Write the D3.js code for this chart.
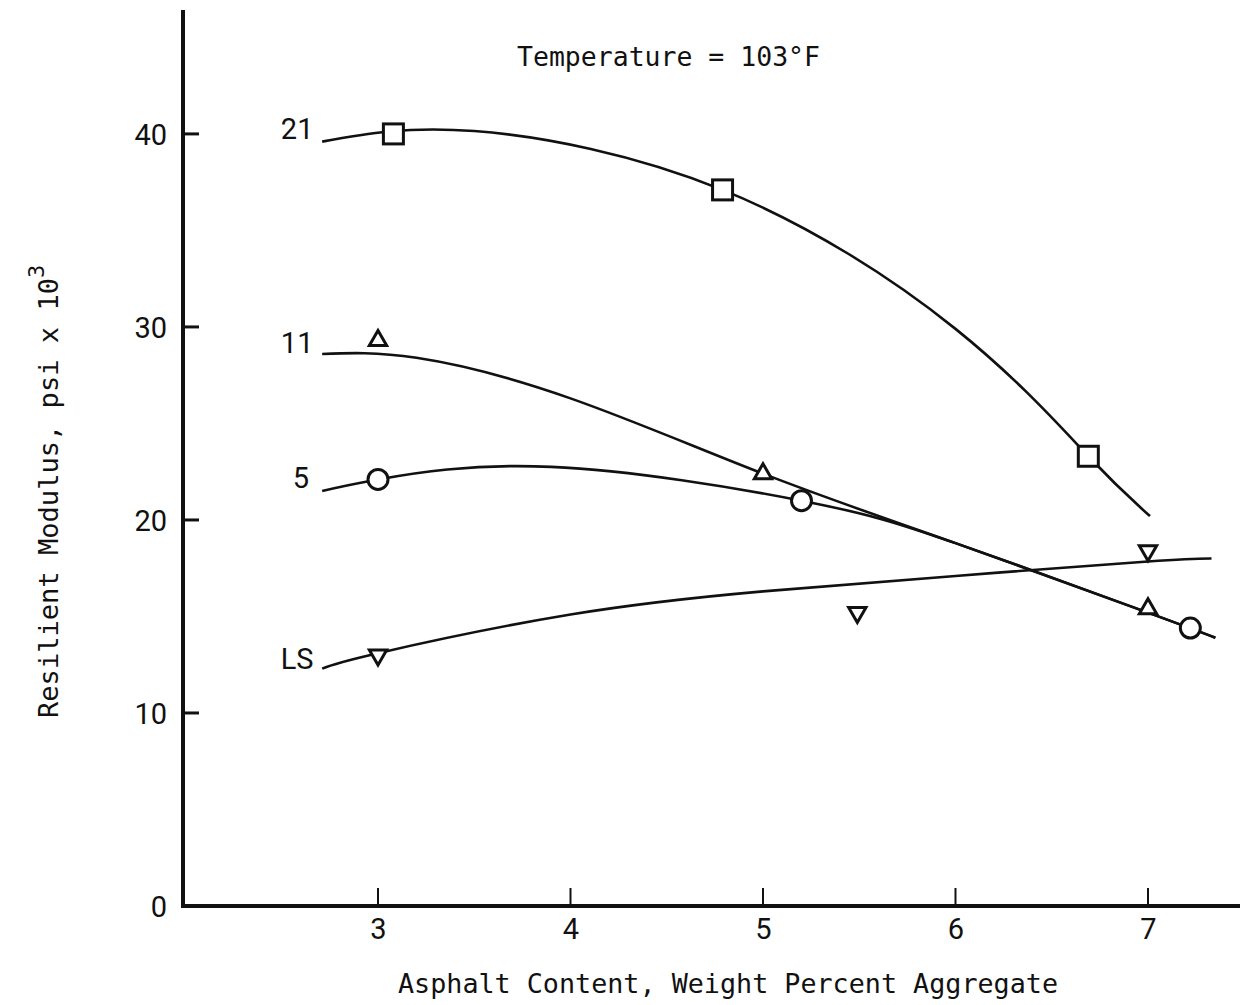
<!DOCTYPE html>
<html>
<head>
<meta charset="utf-8">
<script src="https://cdn.jsdelivr.net/npm/d3@7"></script>
<style>
  html, body { margin: 0; padding: 0; background: #fff; }
  svg { display: block; }
</style>
</head>
<body>
<svg id="chart" width="1249" height="1005"></svg>
<script>
// ---- Data ----
const xTicks = [3, 4, 5, 6, 7];
const yTicks = [0, 10, 20, 30, 40];
const seriesNames = ["21", "11", "5", "LS"];

// measured points (markers)
const pts21 = [[3.08, 40.0], [4.79, 37.1], [6.69, 23.3]];
const pts11 = [[3.0, 29.3], [5.0, 22.4], [7.0, 15.4]];
const pts5  = [[3.0, 22.1], [5.2, 21.0], [7.22, 14.4]];
const ptsLS = [[3.0, 13.0], [5.49, 15.2], [7.0, 18.4]];

// hand-drawn fitted curves
const curve21 = [[2.71, 39.6], [3.5, 40.15], [4.79, 37.1], [6.0, 29.9], [6.69, 23.3], [7.01, 20.2]];
const curve11 = [[2.71, 28.6], [3.2, 28.4], [4.0, 26.3], [5.0, 22.4], [6.0, 18.8], [7.0, 15.2], [7.35, 13.9]];
const curve5  = [[2.71, 21.5], [3.0, 22.1], [3.9, 22.75], [5.2, 21.0], [6.0, 18.8], [7.0, 15.2], [7.35, 13.9]];
const curveLS = [[2.71, 12.3], [3.0, 13.1], [4.0, 15.1], [5.0, 16.3], [6.0, 17.1], [7.0, 17.85], [7.33, 18.0]];

// series label anchor values (x, y in data units)
const labelPos = [[2.58, 40.3], [2.58, 29.2], [2.6, 22.2], [2.58, 12.8]];

const titleText = "Temperature = 103°F";
const xTitle = "Asphalt Content, Weight Percent Aggregate";
const yTitle = "Resilient Modulus, psi x 10";

// ---- Drawing ----
const svg = d3.select("#chart");
const x = d3.scaleLinear().domain([1.987, 7.478]).range([183, 1240]);
const y = d3.scaleLinear().domain([0, 46.42]).range([906, 10]);

const ink = "#111";
const tickFont = "Roboto, 'DejaVu Sans', sans-serif";
const monoFont = "'DejaVu Sans Mono', 'Liberation Mono', monospace";

// axes
const xAxis = d3.axisBottom(x).tickValues(xTicks).tickSize(0).tickFormat(d3.format("d"));
const gx = svg.append("g").attr("transform", `translate(0,${y(0)})`).call(xAxis);
gx.select(".domain").remove();
gx.selectAll("text").attr("font-family", tickFont).attr("font-size", 29).attr("fill", ink).attr("dy", "1.05em");

const yAxis = d3.axisLeft(y).tickValues(yTicks).tickSize(0).tickFormat(d3.format("d"));
const gy = svg.append("g").attr("transform", `translate(${x(1.987)},0)`).call(yAxis);
gy.select(".domain").remove();
gy.selectAll("text").attr("font-family", tickFont).attr("font-size", 29).attr("fill", ink).attr("x", -16).attr("dy", "0.36em");

// inward tick marks
svg.append("g").selectAll("line").data(yTicks.filter(d => d > 0)).join("line")
  .attr("x1", x(1.987)).attr("x2", x(1.987) + 16)
  .attr("y1", d => y(d)).attr("y2", d => y(d))
  .attr("stroke", ink).attr("stroke-width", 3);
svg.append("g").selectAll("line").data(xTicks).join("line")
  .attr("x1", d => x(d)).attr("x2", d => x(d))
  .attr("y1", y(0)).attr("y2", y(0) - 18)
  .attr("stroke", ink).attr("stroke-width", 2);

// axis lines
svg.append("line").attr("x1", x(1.987)).attr("x2", x(1.987)).attr("y1", y(46.42)).attr("y2", y(0) + 2)
  .attr("stroke", ink).attr("stroke-width", 4);
svg.append("line").attr("x1", x(1.987) - 2).attr("x2", x(7.478)).attr("y1", y(0)).attr("y2", y(0))
  .attr("stroke", ink).attr("stroke-width", 4);

// curves
const line = d3.line().x(d => x(d[0])).y(d => y(d[1])).curve(d3.curveNatural);
[curve21, curve11, curve5, curveLS].forEach(c => {
  svg.append("path").attr("d", line(c)).attr("fill", "none").attr("stroke", ink).attr("stroke-width", 2.6);
});

// markers
const mg = svg.append("g").attr("fill", "#fff").attr("stroke", ink).attr("stroke-width", 3);
mg.selectAll("rect").data(pts21).join("rect")
  .attr("x", d => x(d[0]) - 10).attr("y", d => y(d[1]) - 10).attr("width", 20).attr("height", 20);
mg.selectAll("circle").data(pts5).join("circle")
  .attr("cx", d => x(d[0])).attr("cy", d => y(d[1])).attr("r", 10);
const tri = d3.symbol().type(d3.symbolTriangle).size(130);
mg.selectAll("path.up").data(pts11).join("path").attr("class", "up")
  .attr("d", tri).attr("transform", d => `translate(${x(d[0])},${y(d[1])})`);
mg.selectAll("path.down").data(ptsLS).join("path").attr("class", "down")
  .attr("d", tri).attr("transform", d => `translate(${x(d[0])},${y(d[1])}) rotate(180)`);

// series labels
svg.append("g").selectAll("text").data(seriesNames).join("text")
  .attr("x", (d, i) => x(labelPos[i][0]))
  .attr("y", (d, i) => y(labelPos[i][1]))
  .attr("text-anchor", "middle").attr("dy", "0.36em")
  .attr("font-family", tickFont).attr("font-size", 29).attr("fill", ink)
  .text(d => d);

// title
svg.append("text").attr("x", 517).attr("y", 66)
  .attr("font-family", monoFont).attr("font-size", 26).attr("fill", ink)
  .attr("textLength", 303).attr("lengthAdjust", "spacingAndGlyphs")
  .text(titleText);

// x title
svg.append("text").attr("x", 398).attr("y", 993)
  .attr("font-family", monoFont).attr("font-size", 27).attr("fill", ink)
  .attr("textLength", 660).attr("lengthAdjust", "spacingAndGlyphs")
  .text(xTitle);

// y title
const yt = svg.append("text").attr("transform", "translate(58,718) rotate(-90)")
  .attr("font-family", monoFont).attr("font-size", 27).attr("fill", ink);
yt.append("tspan").attr("textLength", 440).attr("lengthAdjust", "spacingAndGlyphs").text(yTitle);
yt.append("tspan").attr("dy", -14).attr("font-size", 22).text("3");
</script>
</body>
</html>
